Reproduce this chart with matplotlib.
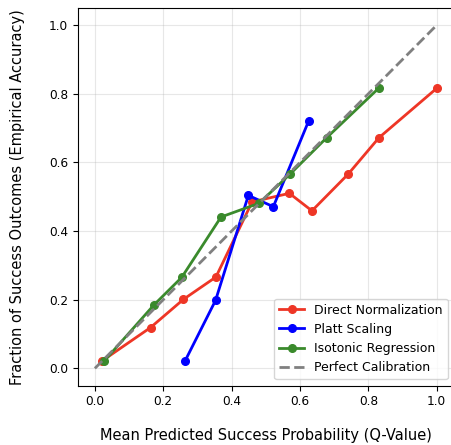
import matplotlib
matplotlib.use("Agg")
import matplotlib.pyplot as plt

direct_x = [0.02, 0.163, 0.259, 0.354, 0.46, 0.569, 0.635, 0.741, 0.831, 1.0]
direct_y = [0.021, 0.119, 0.201, 0.266, 0.485, 0.510, 0.459, 0.566, 0.672, 0.816]

platt_x = [0.263, 0.353, 0.449, 0.522, 0.625]
platt_y = [0.020, 0.198, 0.504, 0.471, 0.720]

iso_x = [0.027, 0.173, 0.254, 0.369, 0.48, 0.571, 0.678, 0.831]
iso_y = [0.021, 0.185, 0.265, 0.441, 0.481, 0.566, 0.672, 0.817]

perfect = [0.0, 1.0]

fig = plt.figure(figsize=(4.51, 4.45), dpi=100)
ax = fig.add_axes([77.8/451, (445-385.5)/445, 376/451, 377.5/445])

ax.plot(direct_x, direct_y, '-o', color='#ee3626', lw=2, ms=5.5, label='Direct Normalization')
ax.plot(platt_x, platt_y, '-o', color='#0000ff', lw=2, ms=5.5, label='Platt Scaling')
ax.plot(iso_x, iso_y, '-o', color='#3a8a2c', lw=2, ms=5.5, label='Isotonic Regression')
ax.plot(perfect, perfect, '--', color='gray', lw=2, label='Perfect Calibration')

ax.set_xlim(-0.05, 1.05)
ax.set_ylim(-0.05, 1.05)
ax.set_xticks([0.0, 0.2, 0.4, 0.6, 0.8, 1.0])
ax.set_yticks([0.0, 0.2, 0.4, 0.6, 0.8, 1.0])
ax.tick_params(labelsize=8.7)
ax.grid(True, alpha=0.3)
ax.set_xlabel('Mean Predicted Success Probability (Q-Value)', fontsize=10.5, labelpad=14)
ax.set_ylabel('Fraction of Success Outcomes (Empirical Accuracy)', fontsize=10.5, labelpad=17)
ax.legend(loc='lower right', fontsize=9)

fig.savefig('out.png', dpi=100)
